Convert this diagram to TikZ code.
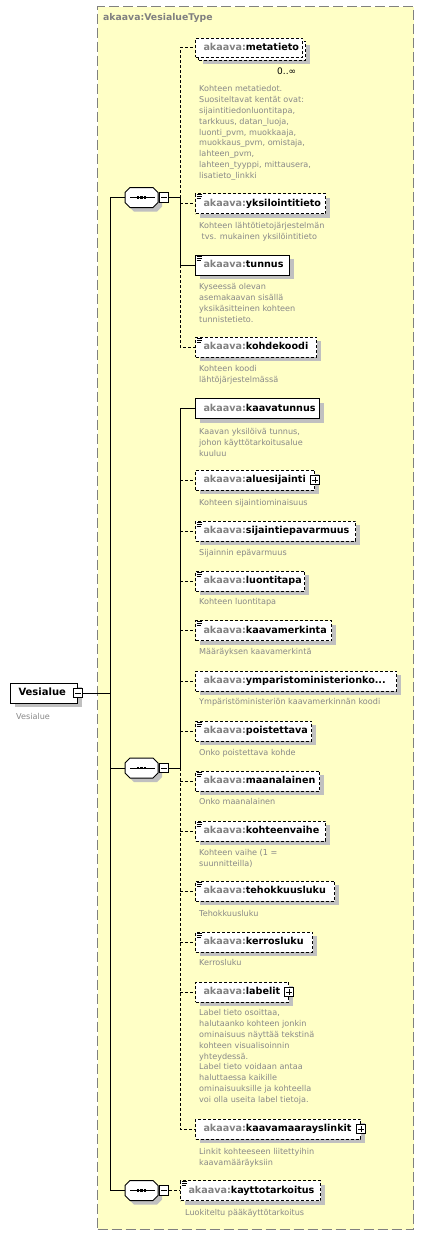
\documentclass[tikz,border=0pt]{standalone}
\usepackage{fontspec}
\setmainfont{DejaVu Sans}
\usetikzlibrary{shadows}
\definecolor{typefill}{HTML}{FFFFC6}
\definecolor{typeborder}{HTML}{808080}
\definecolor{shadowgray}{HTML}{C0C0C0}
\definecolor{pregray}{HTML}{808080}
\definecolor{descgray}{HTML}{888888}
\newcommand\pfx{\textcolor{pregray}{akaava:}}
\newcommand\seqshape[2]{%
  \fill[shadowgray] (#1-11.5+4,#2-10+4) -- (#1+11.5+4,#2-10+4) -- (#1+16.5+4,#2-5+4) -- (#1+16.5+4,#2+5+4) -- (#1+11.5+4,#2+10+4) -- (#1-11.5+4,#2+10+4) -- (#1-16.5+4,#2+5+4) -- (#1-16.5+4,#2-5+4) -- cycle;
  \draw[fill=white,line width=1pt] (#1-11.5,#2-10) -- (#1+11.5,#2-10) -- (#1+16.5,#2-5) -- (#1+16.5,#2+5) -- (#1+11.5,#2+10) -- (#1-11.5,#2+10) -- (#1-16.5,#2+5) -- (#1-16.5,#2-5) -- cycle;
  \draw[line width=1pt] (#1-11.5,#2) -- (#1+13.5,#2);
  \foreach \d in {-3.4,0,3.4}{\fill (#1+\d-1.3,#2-1.3) rectangle ++(2.6,2.6);}
}
\newcommand\simpleicon[1]{%
  \draw[line width=0.7pt] ([xshift=1.5pt,yshift=-1.6pt]#1.north west) -- ++(5.5,0);
  \draw[line width=0.7pt] ([xshift=1.5pt,yshift=-3.6pt]#1.north west) -- ++(5.5,0);
  \draw[line width=0.7pt] ([xshift=1.5pt,yshift=-5.6pt]#1.north west) -- ++(4,0);
}
\begin{document}
\begin{tikzpicture}[x=1pt,y=-1pt,
  elbox/.style={draw=black, fill=white, line width=1pt, minimum height=20pt, inner xsep=8pt, inner ysep=0pt, anchor=west, align=left, text height=7.2pt, text depth=2pt, font=\fontsize{9.6}{11}\selectfont\bfseries},
  shad/.style={general shadow={fill=shadowgray, shadow xshift=4pt, shadow yshift=-4pt}},
  multshad/.style={general shadow={fill=shadowgray, shadow xshift=7pt, shadow yshift=-7pt}, general shadow={fill=white, draw=black, line width=1pt, dash pattern=on 3pt off 2pt, shadow xshift=3pt, shadow yshift=-3pt}},
  opt/.style={dash pattern=on 3pt off 2pt},
  conn/.style={line width=1pt},
  desc/.style={anchor=north west, inner sep=0pt, align=left, text=descgray, font=\fontsize{8.1}{10.9}\selectfont},
  pmbox/.style={draw=black, fill=white, line width=0.8pt, minimum size=9.5pt, inner sep=0pt},
  minusbox/.style={pmbox, path picture={\draw[line width=0.8pt] ([xshift=2pt]path picture bounding box.west) -- ([xshift=-2pt]path picture bounding box.east);}},
  plusbox/.style={pmbox, path picture={\draw[line width=0.8pt] ([xshift=2pt]path picture bounding box.west) -- ([xshift=-2pt]path picture bounding box.east); \draw[line width=0.8pt] ([yshift=2pt]path picture bounding box.south) -- ([yshift=-2pt]path picture bounding box.north);}},
  seqnode/.style={minimum width=33pt, minimum height=20pt, inner sep=0pt}
]
\useasboundingbox (0,0) rectangle (424,1235);
\fill[white] (0,0) rectangle (424,1235);

% complex type frame
\node[draw=typeborder, fill=typefill, line width=1.3pt, dash pattern=on 10pt off 4pt, minimum width=316pt, minimum height=1223pt, inner sep=0pt, anchor=north west] (vtype) at (97,6) {};
\node[anchor=west, inner sep=0pt, text=pregray, font=\fontsize{9.3}{10}\selectfont\bfseries] (title) at (103,18) {akaava:VesialueType};

% root element
\node[elbox, shad, text width=51pt, inner xsep=8pt, font=\fontsize{10}{11}\selectfont\bfseries] (root) at (10,693) {Vesialue};
\node[minusbox] (rootm) at (root.east) {};
\node[desc, anchor=west] (rootd) at (16,716) {Vesialue};

% sequences
\seqshape{141.5}{197.5}
\node[seqnode] (s1) at (141.5,197.5) {};
\node[minusbox] (s1m) at (164,197.5) {};
\seqshape{141.5}{768}
\node[seqnode] (s2) at (141.5,768) {};
\node[minusbox] (s2m) at (164,768) {};
\seqshape{141.5}{1190.5}
\node[seqnode] (s3) at (141.5,1190.5) {};
\node[minusbox] (s3m) at (164,1190.5) {};

% first sequence
\node[elbox, opt, multshad, text width=91pt, minimum height=19pt] (metatieto) at (195,47.5) {\pfx metatieto};
\node[anchor=west, inner sep=0pt, font=\fontsize{9}{10}\selectfont] (metatietom) at (277,71) {0..∞};
\node[desc] (metatietod) at (199,83.6) {\strut Kohteen metatiedot.\\Suositeltavat kentät ovat:\\sijaintitiedonluontitapa,\\tarkkuus, datan\_luoja,\\luonti\_pvm, muokkaaja,\\muokkaus\_pvm, omistaja,\\lahteen\_pvm,\\lahteen\_tyyppi, mittausera,\\lisatieto\_linkki};

\node[elbox, opt, shad, text width=114pt] (yksilointitieto) at (195,203.5) {\pfx yksilointitieto};
\simpleicon{yksilointitieto}
\node[desc] (yksilointitietod) at (199,220.6) {\strut Kohteen lähtötietojärjestelmän\\\hspace*{2.5pt}tvs. mukainen yksilöintitieto};

\node[elbox, shad, text width=78pt] (tunnus) at (195,265) {\pfx tunnus};
\simpleicon{tunnus}
\node[desc] (tunnusd) at (199,281.6) {\strut Kyseessä olevan\\asemakaavan sisällä\\yksikäsitteinen kohteen\\tunnistetieto.};

\node[elbox, opt, shad, text width=105pt] (kohdekoodi) at (195,347) {\pfx kohdekoodi};
\simpleicon{kohdekoodi}
\node[desc] (kohdekoodid) at (199,363.6) {\strut Kohteen koodi\\lähtöjärjestelmässä};

% second sequence
\node[elbox, shad, text width=108pt] (kaavatunnus) at (195,408.5) {\pfx kaavatunnus};
\node[desc] (kaavatunnusd) at (199,426.6) {\strut Kaavan yksilöivä tunnus,\\johon käyttötarkoitusalue\\kuuluu};

\node[elbox, opt, shad, text width=103pt] (aluesijainti) at (195,480) {\pfx aluesijainti};
\node[plusbox] (aluesijaintip) at (aluesijainti.east) {};
\node[desc] (aluesijaintid) at (199,497.6) {\strut Kohteen sijaintiominaisuus};

\node[elbox, opt, shad, text width=144pt] (sijaintiepavarmuus) at (195,531) {\pfx sijaintiepavarmuus};
\simpleicon{sijaintiepavarmuus}
\node[desc] (sijaintiepavarmuusd) at (199,547.6) {\strut Sijainnin epävarmuus};

\node[elbox, opt, shad, text width=93pt] (luontitapa) at (195,581) {\pfx luontitapa};
\simpleicon{luontitapa}
\node[desc] (luontitapad) at (199,596.6) {\strut Kohteen luontitapa};

\node[elbox, opt, shad, text width=120pt] (kaavamerkinta) at (195,630.5) {\pfx kaavamerkinta};
\simpleicon{kaavamerkinta}
\node[desc] (kaavamerkintad) at (199,646.6) {\strut Määräyksen kaavamerkintä};

\node[elbox, opt, shad, text width=185pt] (ymparisto) at (195,681) {\pfx ymparistoministerionko...};
\node[desc] (ymparistod) at (199,696.6) {\strut Ympäristöministeriön kaavamerkinnän koodi};

\node[elbox, opt, shad, text width=100pt] (poistettava) at (195,731) {\pfx poistettava};
\simpleicon{poistettava}
\node[desc] (poistettavad) at (199,747.6) {\strut Onko poistettava kohde};

\node[elbox, opt, shad, text width=108pt] (maanalainen) at (195,781) {\pfx maanalainen};
\simpleicon{maanalainen}
\node[desc] (maanalainend) at (199,796.6) {\strut Onko maanalainen};

\node[elbox, opt, shad, text width=114pt] (kohteenvaihe) at (195,831) {\pfx kohteenvaihe};
\simpleicon{kohteenvaihe}
\node[desc] (kohteenvaihed) at (199,847.6) {\strut Kohteen vaihe (1 =\\suunnitteilla)};

\node[elbox, opt, shad, text width=123pt] (tehokkuusluku) at (195,891) {\pfx tehokkuusluku};
\simpleicon{tehokkuusluku}
\node[desc] (tehokkuuslukud) at (199,908.6) {\strut Tehokkuusluku};

\node[elbox, opt, shad, text width=101pt] (kerrosluku) at (195,942) {\pfx kerrosluku};
\simpleicon{kerrosluku}
\node[desc] (kerroslukud) at (199,957.6) {\strut Kerrosluku};

\node[elbox, opt, shad, text width=77pt] (labelit) at (195,992) {\pfx labelit};
\node[plusbox] (labelitp) at (labelit.east) {};
\node[desc] (labelitd) at (199,1007.6) {\strut Label tieto osoittaa,\\halutaanko kohteen jonkin\\ominaisuus näyttää tekstinä\\kohteen visualisoinnin\\yhteydessä.\\Label tieto voidaan antaa\\haluttaessa kaikille\\ominaisuuksille ja kohteella\\voi olla useita label tietoja.};

\node[elbox, opt, shad, text width=149pt] (kaavamaarayslinkit) at (195,1129) {\pfx kaavamaarayslinkit};
\node[plusbox] (kaavamaarayslinkitp) at (kaavamaarayslinkit.east) {};
\node[desc] (kaavamaarayslinkitd) at (199,1146.6) {\strut Linkit kohteeseen liitettyihin\\kaavamääräyksiin};

% third sequence
\node[elbox, opt, shad, text width=124pt] (kayttotarkoitus) at (180,1190.5) {\pfx kayttotarkoitus};
\simpleicon{kayttotarkoitus}
\node[desc] (kayttotarkoitusd) at (185,1207.6) {\strut Luokiteltu pääkäyttötarkoitus};

% connectors
\coordinate (trunk) at (110,693);
\coordinate (j1) at (180,197.5);
\coordinate (j2) at (180,768);
\draw[conn] (rootm.east) -- (trunk);
\draw[conn] (trunk) |- (s1.west);
\draw[conn] (trunk) |- (s2.west);
\draw[conn] (trunk) |- (s3.west);

\draw[conn] (s1m.east) -- (j1);
\draw[conn, opt] (j1) |- (metatieto.west);
\draw[conn, opt] (j1 |- yksilointitieto.west) -- (yksilointitieto.west);
\draw[conn] (j1) |- (tunnus.west);
\draw[conn, opt] (j1 |- tunnus.west) |- (kohdekoodi.west);

\draw[conn] (s2m.east) -- (j2);
\draw[conn] (j2) |- (kaavatunnus.west);
\foreach \n in {aluesijainti,sijaintiepavarmuus,luontitapa,kaavamerkinta,ymparisto,poistettava,maanalainen,kohteenvaihe,tehokkuusluku,kerrosluku,labelit}{
  \draw[conn, opt] (j2 |- \n.west) -- (\n.west);
}
\draw[conn, opt] (j2) |- (kaavamaarayslinkit.west);

\draw[conn, opt] (s3m.east) -- (kayttotarkoitus.west);
\end{tikzpicture}
\end{document}
